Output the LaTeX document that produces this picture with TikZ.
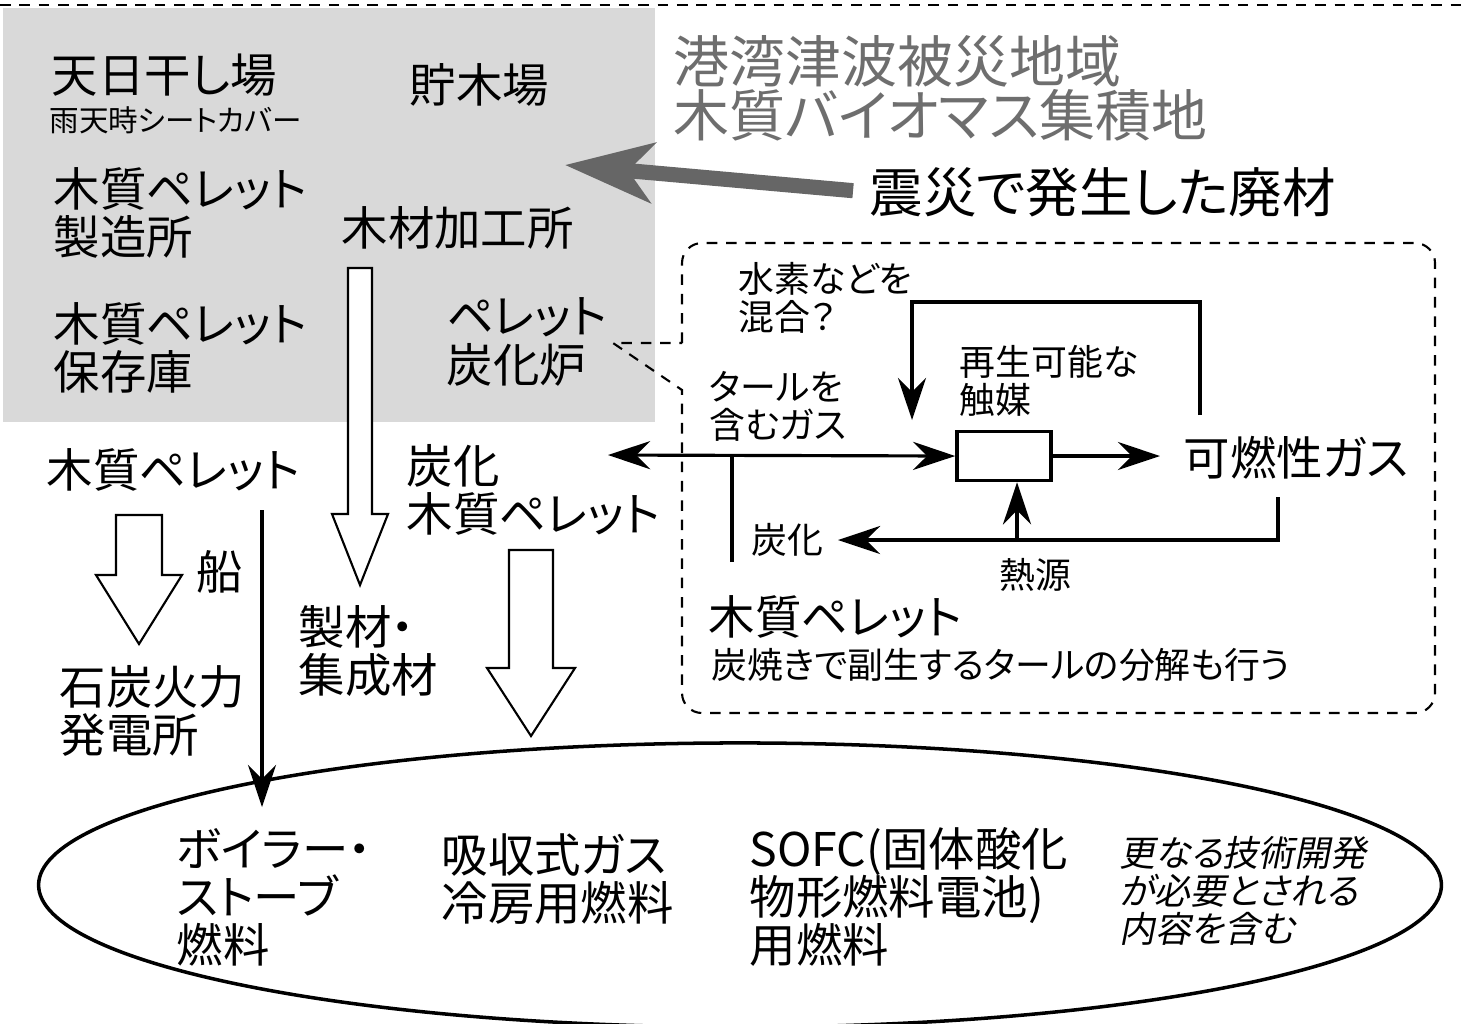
\documentclass[tikz,border=0pt]{standalone}
\usepackage{fontspec}
\setmainfont{Noto Sans CJK JP}[RawFeature=+palt]
\newfontfamily\jpit{Noto Sans CJK JP}[FakeSlant=0.2,RawFeature=+palt]
\usepackage{tikz}
\usetikzlibrary{arrows.meta,positioning,calc}
\definecolor{areagray}{HTML}{D9D9D9}
\definecolor{titlegray}{HTML}{6E6E6E}
\definecolor{arrowgray}{HTML}{666666}
\lineskiplimit=-100pt

\begin{document}
\begin{tikzpicture}[x=0.01cm, y=-0.01cm, line width=0.9pt,
  >={Stealth[length=12pt,width=8pt,inset=4pt]},
  lbl/.style={inner sep=0pt, anchor=west, align=left},
  big/.style={lbl, font=\fontsize{13.2}{13.7}\selectfont},
  mid/.style={lbl, font=\fontsize{10.2}{10.9}\selectfont},
  small/.style={lbl, font=\fontsize{8.4}{9}\selectfont},
  title/.style={lbl, text=titlegray, font=\fontsize{15.9}{15.4}\selectfont},
  hollow/.style={draw, line width=0.6pt, fill=white},
  callout/.style={line width=0.6pt, dash pattern=on 3pt off 2.5pt}]
\useasboundingbox (0,0) rectangle (1477,1023);
\clip (0,0) rectangle (1477,1023);

% collection site
\draw[callout] (0,5) -- (1463,5) -- (1463,0);
\fill[areagray] (3,8) rectangle (655,422);
\node[big] (hoshiba) at (50,75) {天日干し場};
\node[small] (sheet) at (48,120) {雨天時シートカバー};
\node[big] (choboku) at (408,85) {貯木場};
\node[big] (seizo) at (52,213) {木質ペレット\\製造所};
\node[big] (kakou) at (340,228) {木材加工所};
\node[big] (hozon) at (52,348) {木質ペレット\\保存庫};
\node[big] (tankaro) at (445,342) {ペレット\\炭化炉};

\node[title] (area) at (672,88) {港湾津波被災地域\\木質バイオマス集積地};
\node[lbl, font=\fontsize{15.2}{16}\selectfont] (haizai) at (868,192) {震災で発生した廃材};
\coordinate (dumpin) at (565,165);
\draw[-{Stealth[length=25pt,width=17pt,inset=7pt]}, line width=4.3pt, arrowgray,
  shorten <=0.15cm] (haizai.west) -- (dumpin);

% carbonizing furnace
\draw[callout] (682,343) -- (682,300) [rounded corners=0.2cm] -- (682,243) -- (1435,243)
  -- (1435,713) -- (682,713) -- (682,600) [sharp corners] -- (682,390) -- (613,343) -- cycle;
\node[mid] (suiso) at (737,298) {水素などを\\混合？};
\node[mid] (saisei) at (958,381) {再生可能な\\触媒};
\node[mid] (targas) at (708,406) {タールを\\含むガス};
\node[draw, minimum width=0.94cm, minimum height=0.49cm, inner sep=0pt, line width=1pt] (cat) at (1004,456) {};
\node[big] (gas) at (1182,458) {可燃性ガス};
\node[mid] (tanka) at (750,540) {炭化};
\node[mid] (netsu) at (998,575) {熱源};
\node[big] (pelR) at (707,617) {木質ペレット};
\node[mid] (bunkai) at (710,665) {炭焼きで副生するタールの分解も行う};

\coordinate (tarend) at (608,455);
\coordinate (pelup) at (732,562);
\coordinate (fbtop) at (1200,415);
\coordinate (fbin) at (912,420);
\coordinate (heatout) at (1278,497);
\coordinate (charin) at (838,540);
\coordinate (heatup) at (1017,540);
\draw[<->] (tarend) -- (cat.west);
\draw (pelup) -- (pelup |- tarend);
\draw[->, shorten >=0.22cm] (cat.east) -- (cat.east -| gas.west);
\draw[->] (fbtop) -- ++(0,-113) -| (fbin);
\draw[->] (heatout) |- (charin);
\draw[->] (heatup) -- (heatup |- cat.south);

% products
\node[big] (pelL) at (45,470) {木質ペレット};
\node[big] (tpel) at (405,490) {炭化\\木質ペレット};
\node[big] (fune) at (195,572) {船};
\node[big] (seizai) at (297,651) {製材・\\集成材};
\node[big] (sekitan) at (58,711) {石炭火力\\発電所};
\foreach \cx/\ya/\yb/\yc/\sw/\hw in {360/268/514/585/12/28, 139/515/575/644/23/43, 531/550/668/736/22/44}
  \draw[hollow] (\cx-\sw,\ya) -- (\cx+\sw,\ya) -- (\cx+\sw,\yb) -- (\cx+\hw,\yb) -- (\cx,\yc)
    -- (\cx-\hw,\yb) -- (\cx-\sw,\yb) -- cycle;
\coordinate (pelsrc) at (262,510);
\coordinate (boilin) at (262,807);
\draw[->] (pelsrc) -- (boilin);

% uses
\draw[line width=1pt] (740,885) ellipse [x radius=7.01cm, y radius=1.42cm];
\node[big] (boiler) at (175,897) {ボイラー・\\ストーブ\\燃料};
\node[big] (kyushu) at (440,879) {吸収式ガス\\冷房用燃料};
\node[big] (sofc) at (748,897) {SOFC(固体酸化\\物形燃料電池)\\用燃料};
\node[lbl, font=\jpit\fontsize{10.2}{10.9}\selectfont] (more) at (1118,891) {更なる技術開発\\が必要とされる\\内容を含む};
\end{tikzpicture}
\end{document}
